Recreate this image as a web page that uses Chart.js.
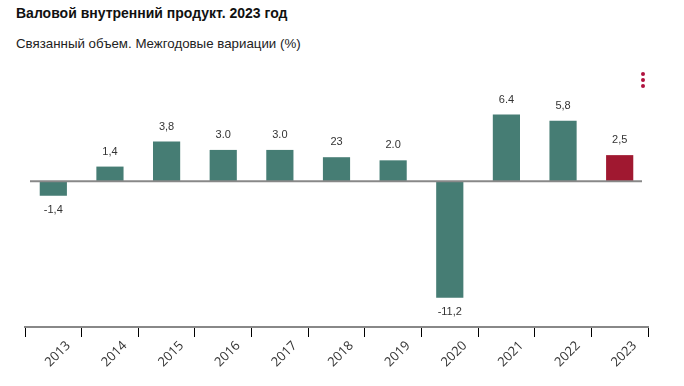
<!DOCTYPE html>
<html>
<head>
<meta charset="utf-8">
<script src="https://cdn.jsdelivr.net/npm/chart.js@4.4.0/dist/chart.umd.min.js"></script>
<style>
  html, body { margin: 0; padding: 0; background: #fff; }
  #wrap { position: relative; width: 684px; height: 386px; }
  #chart { position: absolute; left: 0; top: 0; }
  .title { position: absolute; left: 16px; top: 5px; font: bold 14px "Liberation Sans", Arial, sans-serif; color: #111; }
  .subtitle { position: absolute; left: 16px; top: 36px; font: 13.3px "Liberation Sans", Arial, sans-serif; color: #222; }
  .kebab { position: absolute; left: 641px; top: 72px; width: 4px; }
  .kebab span { display: block; width: 4px; height: 4px; border-radius: 2px; background: #b0123f; margin-bottom: 2px; }
</style>
</head>
<body>
<div id="wrap">
  <div class="title">Валовой внутренний продукт. 2023 год</div>
  <div class="subtitle">Связанный объем. Межгодовые вариации (%)</div>
  <div class="kebab"><span></span><span></span><span></span></div>
  <canvas id="chart" width="684" height="386"></canvas>
</div>
<script>
const years = ['2013', '2014', '2015', '2016', '2017', '2018', '2019', '2020', '2021', '2022', '2023'];
const growth = [-1.4, 1.4, 3.8, 3.0, 3.0, 2.3, 2.0, -11.2, 6.4, 5.8, 2.5];
// подписи так, как они написаны на исходной картинке
const valueLabels = ['-1,4', '1,4', '3,8', '3.0', '3.0', '23', '2.0', '-11,2', '6.4', '5,8', '2,5'];

const greenColor = '#467d74';
const redColor = '#a01830';
const barColors = years.map((y, i) => i === years.length - 1 ? redColor : greenColor);

// линия нуля и подписи значений
const overlayPlugin = {
    id: 'overlay',
    afterDatasetsDraw(chart) {
        const ctx = chart.ctx;
        const y0 = chart.scales.y.getPixelForValue(0);
        const area = chart.chartArea;
        ctx.save();
        ctx.strokeStyle = '#888888';
        ctx.lineWidth = 2;
        ctx.beginPath();
        ctx.moveTo(area.left + 5, y0);
        ctx.lineTo(area.right - 6, y0);
        ctx.stroke();

        ctx.fillStyle = '#333333';
        ctx.font = '11px "Liberation Sans", Arial, sans-serif';
        ctx.textAlign = 'center';
        ctx.textBaseline = 'middle';
        chart.getDatasetMeta(0).data.forEach((bar, i) => {
            const v = growth[i];
            const y = v >= 0 ? bar.y - 15 : bar.y + 14;
            ctx.fillText(valueLabels[i], bar.x, y);
        });
        ctx.restore();
    }
};

new Chart(document.getElementById('chart'), {
    type: 'bar',
    data: {
        labels: years,
        datasets: [{
            data: growth,
            backgroundColor: barColors,
            barPercentage: 0.48,
            categoryPercentage: 1.0
        }]
    },
    options: {
        responsive: false,
        animation: false,
        layout: { padding: { top: 77, left: 25, right: 36, bottom: 0 } },
        plugins: {
            legend: { display: false },
            tooltip: { enabled: false }
        },
        scales: {
            x: {
                grid: {
                    display: true,
                    offset: true,
                    drawOnChartArea: false,
                    drawTicks: true,
                    tickLength: 10,
                    color: '#000000',
                    lineWidth: 1
                },
                border: { display: true, color: '#888888', width: 2 },
                ticks: {
                    maxRotation: 45,
                    minRotation: 45,
                    labelOffset: 15,
                    padding: 1,
                    color: '#333333',
                    font: { family: '"Open Sans", sans-serif', size: 13 }
                },
                afterFit(scale) { scale.height = 386 - 327; }
            },
            y: {
                display: false,
                min: -14,
                max: 10
            }
        }
    },
    plugins: [overlayPlugin]
});
</script>
</body>
</html>
